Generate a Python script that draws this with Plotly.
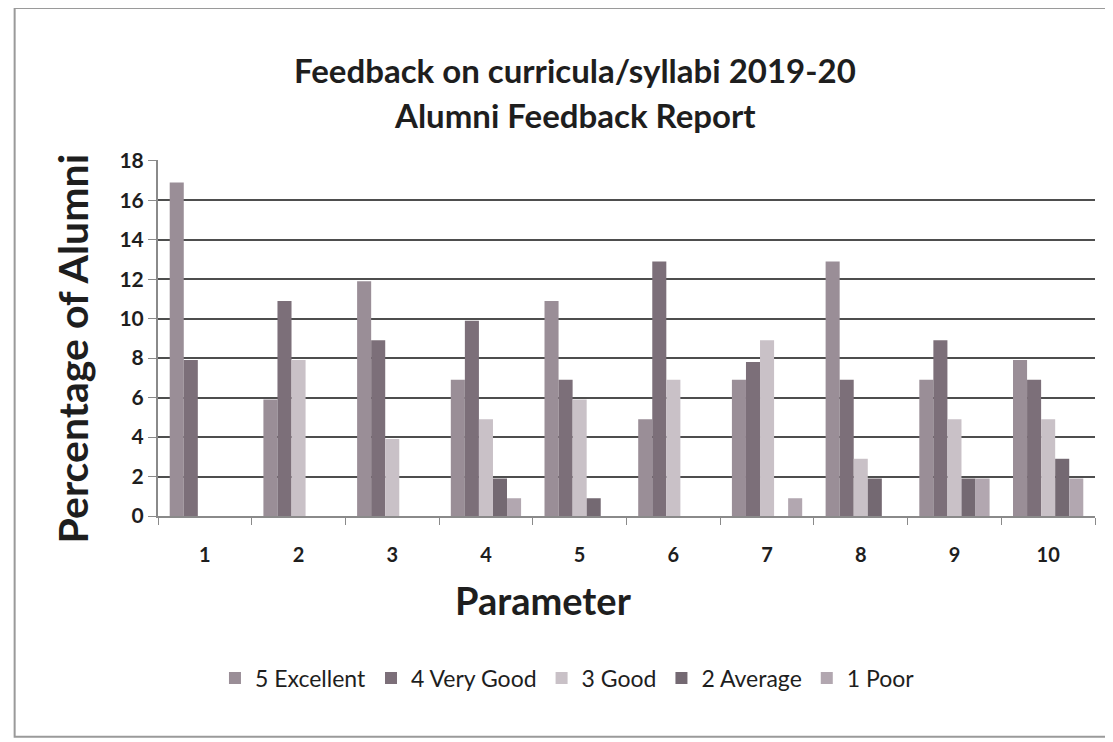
import plotly.graph_objects as go

# Alumni feedback, percentage of alumni per rating, parameters 1-10
parameters = ["1", "2", "3", "4", "5", "6", "7", "8", "9", "10"]

excellent = [16.9, 5.9, 11.9, 6.9, 10.9, 4.9, 6.9, 12.9, 6.9, 7.9]
very_good = [7.9, 10.9, 8.9, 9.9, 6.9, 12.9, 7.8, 6.9, 8.9, 6.9]
good = [0, 7.9, 3.9, 4.9, 5.9, 6.9, 8.9, 2.9, 4.9, 4.9]
average = [0, 0, 0, 1.9, 0.9, 0, 0, 1.9, 1.9, 2.9]
poor = [0, 0, 0, 0.9, 0, 0, 0.9, 0, 1.9, 1.9]

series = [
    ("5 Excellent", excellent, "#9a8e97"),
    ("4 Very Good", very_good, "#7c6f79"),
    ("3 Good", good, "#c9c1c7"),
    ("2 Average", average, "#746972"),
    ("1 Poor", poor, "#b2a7b0"),
]

FONT = "Lato, 'Open Sans', sans-serif"
INK = "#1e1e1e"

fig = go.Figure()
for name, values, color in series:
    fig.add_trace(go.Bar(
        name=name,
        x=parameters,
        y=values,
        marker=dict(color=color, line=dict(width=0)),
    ))

# page body has an 8px margin, so the figure is sized to fit inside the window
fig.update_layout(
    width=1105,
    height=734,
    barmode="group",
    bargap=0.25,
    bargroupgap=0,
    paper_bgcolor="white",
    plot_bgcolor="white",
    margin=dict(l=150, r=18, t=152, b=226, autoexpand=False),
    font=dict(family=FONT, color=INK),
    showlegend=True,
    legend=dict(
        orientation="h",
        x=0.437, xanchor="center",
        y=-0.455, yanchor="middle",
        font=dict(size=23, family=FONT, color=INK),
        itemwidth=30,
        traceorder="normal",
    ),
)

fig.update_yaxes(
    range=[0, 18.04],
    dtick=2,
    tick0=0,
    showgrid=True,
    gridcolor="#4e4e4e",
    gridwidth=2,
    zeroline=False,
    showline=True,
    linecolor="#8a8a8a",
    linewidth=2,
    ticks="outside",
    ticklen=8,
    tickcolor="#8a8a8a",
    tickfont=dict(size=21, family=FONT, color=INK, weight="bold"),
)

fig.update_xaxes(
    type="category",
    showline=True,
    linecolor="#8a8a8a",
    linewidth=2,
    ticks="outside",
    tickson="boundaries",
    ticklen=7,
    tickcolor="#8a8a8a",
    tickfont=dict(size=20, family=FONT, color=INK, weight="bold"),
    ticklabelstandoff=20,
)

# title lines
fig.add_annotation(
    text="<b>Feedback on curricula/syllabi 2019-20</b>",
    xref="paper", yref="paper", x=0.445, y=1.253,
    xanchor="center", yanchor="middle", showarrow=False,
    font=dict(size=33, family=FONT, color=INK),
)
fig.add_annotation(
    text="<b>Alumni Feedback Report</b>",
    xref="paper", yref="paper", x=0.445, y=1.126,
    xanchor="center", yanchor="middle", showarrow=False,
    font=dict(size=33, family=FONT, color=INK),
)

# axis titles placed as annotations to match the original placement
fig.add_annotation(
    text="<b>Percentage of Alumni</b>",
    xref="paper", yref="paper",
    x=-0.091, y=0.47,
    xanchor="center", yanchor="middle",
    textangle=-90,
    showarrow=False,
    font=dict(size=41, family=FONT, color=INK),
)
fig.add_annotation(
    text="<b>Parameter</b>",
    xref="paper", yref="paper",
    x=0.411, y=-0.235,
    xanchor="center", yanchor="middle",
    showarrow=False,
    font=dict(size=38, family=FONT, color=INK),
)

# scanned page frame
fig.add_shape(
    type="rect",
    xref="paper", yref="paper",
    x0=-0.153, x1=1.03, y0=-0.62, y1=1.427,
    line=dict(color="#9a9a9a", width=2),
)

fig.write_html("out.html")
